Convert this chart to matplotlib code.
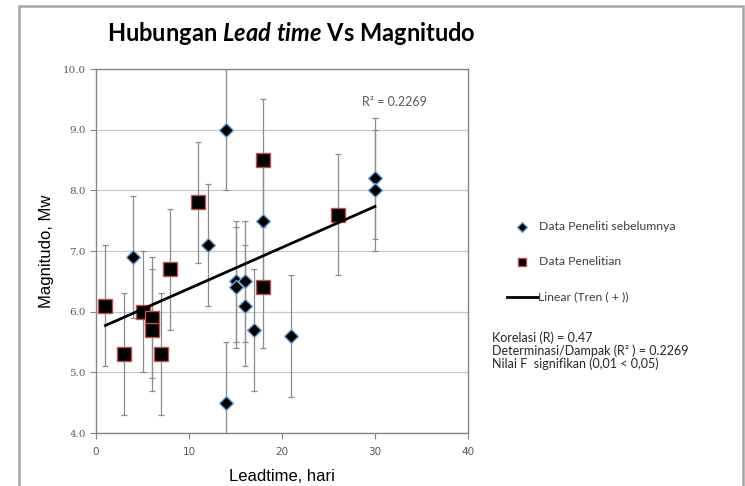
import numpy as np
import matplotlib.pyplot as plt
from matplotlib.patches import Rectangle
from matplotlib.lines import Line2D

plt.rcParams['mathtext.fontset'] = 'custom'
plt.rcParams['mathtext.it'] = 'Lato:italic:bold'
plt.rcParams['mathtext.rm'] = 'Lato:bold'

# Data Peneliti sebelumnya (diamonds)
x_prev = [14, 30, 30, 18, 12, 4, 15, 15, 16, 16, 17, 21, 14]
y_prev = [9.0, 8.2, 8.0, 7.5, 7.1, 6.9, 6.5, 6.4, 6.5, 6.1, 5.7, 5.6, 4.5]

# Data Penelitian (squares)
x_new = [18, 11, 26, 8, 18, 1, 5, 6, 6, 3, 7]
y_new = [8.5, 7.8, 7.6, 6.7, 6.4, 6.1, 6.0, 5.9, 5.7, 5.3, 5.3]

yerr = 1.0
xerr = 0.4

fig = plt.figure(figsize=(7.45, 4.86), dpi=100)
ax = fig.add_axes([0.129, 0.109, 0.499, 0.749])

# outer chart border
fig.patches.append(Rectangle((19 / 745, -0.05), (743 - 19) / 745, 1.05 - 6 / 486,
                             transform=fig.transFigure, fill=False,
                             edgecolor='#a6a6a6', linewidth=1.8))

ebar = dict(fmt='none', ecolor='#8c8c8c', elinewidth=0.9, capsize=2.5, capthick=0.9, zorder=2)
ax.errorbar(x_prev, y_prev, yerr=yerr, xerr=xerr, **ebar)
ax.errorbar(x_new, y_new, yerr=yerr, xerr=xerr, **ebar)

ax.plot(x_prev, y_prev, 'D', color='black', markeredgecolor='#6fa8dc',
        markeredgewidth=1.0, markersize=7.5, zorder=3)
ax.plot(x_new, y_new, 's', color='black', markeredgecolor='#c0504d',
        markeredgewidth=1.0, markersize=9.5, zorder=3)

# linear trend over all data
x_all = np.array(x_prev + x_new, dtype=float)
y_all = np.array(y_prev + y_new)
k, c = np.polyfit(x_all, y_all, 1)
xl = np.array([x_all.min(), x_all.max()])
ax.plot(xl, k * xl + c, color='black', lw=2, zorder=4)

ax.text(28.6, 9.45, 'R² = 0.2269', fontsize=9, color='#595959', family='Lato', va='center')

ax.set_xlim(0, 40)
ax.set_ylim(4, 10)
ax.set_xticks([0, 10, 20, 30, 40])
ax.set_yticks(np.arange(4, 10.1, 1))
ax.set_yticklabels([f'{v:.1f}' for v in np.arange(4, 10.1, 1)], family='DejaVu Serif')
ax.tick_params(labelsize=7.5, labelcolor='#595959', color='#868686', length=4, width=0.8)
ax.tick_params(axis='x', pad=6)
ax.yaxis.grid(True, color='#c8c8c8', lw=0.9)
ax.set_axisbelow(True)
for s in ax.spines.values():
    s.set_color('#868686')
    s.set_linewidth(1.0)

ax.set_xlabel('Leadtime, hari', fontsize=12, family='Liberation Sans', labelpad=9)
ax.set_ylabel('Magnitudo, Mw', fontsize=12, family='Liberation Sans', labelpad=6)

fig.text(0.391, 0.932, r'Hubungan $\mathit{Lead\ time}$ Vs Magnitudo', ha='center', va='center',
         fontsize=17, fontweight='bold', family='Lato')

# legend drawn manually
fig.lines.append(Line2D([522 / 745], [1 - 226.5 / 486], marker='D', color='black',
                        markeredgecolor='#6fa8dc', markersize=5, transform=fig.transFigure))
fig.lines.append(Line2D([522 / 745], [1 - 261.5 / 486], marker='s', color='black',
                        markeredgecolor='#c0504d', markersize=6, transform=fig.transFigure))
fig.lines.append(Line2D([507 / 745, 538 / 745], [1 - 297 / 486] * 2, color='black', lw=2,
                        transform=fig.transFigure))
leg = dict(fontsize=8.8, color='#404040', family='Lato', va='center')
fig.text(539 / 745, 1 - 226.5 / 486, 'Data Peneliti sebelumnya', **leg)
fig.text(539 / 745, 1 - 261.5 / 486, 'Data Penelitian', **leg)
fig.text(538 / 745, 1 - 297 / 486, 'Linear (Tren ( + ))', **leg)

st = dict(fontsize=9, color='#262626', family='Lato', va='center')
fig.text(492 / 745, 1 - 337.5 / 486, 'Korelasi (R) = 0.47', **st)
fig.text(492 / 745, 1 - 351 / 486, 'Determinasi/Dampak (R² ) = 0.2269', **st)
fig.text(492 / 745, 1 - 364 / 486, 'Nilai F  signifikan (0,01 < 0,05)', **st)

fig.savefig('out.png', dpi=100)
